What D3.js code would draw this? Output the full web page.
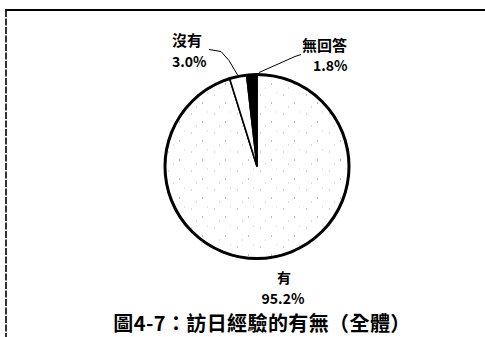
<!DOCTYPE html>
<html><head><meta charset="utf-8">
<script src="https://cdn.jsdelivr.net/npm/d3@7"></script>
<style>
html,body{margin:0;padding:0;background:#fff;}
svg{display:block;}
text{font-family:"Noto Sans CJK TC","Noto Sans CJK SC",sans-serif;font-weight:bold;fill:#000;}
</style></head>
<body>
<svg id="chart" width="485" height="337"></svg>
<script>
const categories = ["有", "沒有", "無回答"];
const values = [95.2, 3.0, 1.8];
const valueLabels = ["95.2%", "3.0%", "1.8%"];
const title = "圖4-7：訪日經驗的有無（全體）";

const svg = d3.select("#chart");
const W = 485, H = 337;
const cx = 257, cy = 166.5, R = 92;

// pattern for the stippled slice
const defs = svg.append("defs");
const pat = defs.append("pattern").attr("id","stip").attr("patternUnits","userSpaceOnUse")
  .attr("width",23).attr("height",19);
pat.append("rect").attr("width",23).attr("height",19).attr("fill","#fff");
pat.append("rect").attr("x",3).attr("y",4).attr("width",1).attr("height",1).attr("fill","#aaa");
pat.append("rect").attr("x",14).attr("y",12).attr("width",1).attr("height",1).attr("fill","#777");
pat.append("rect").attr("x",19).attr("y",2).attr("width",1).attr("height",1).attr("fill","#ccc");
pat.append("rect").attr("x",8).attr("y",16).attr("width",1).attr("height",1).attr("fill","#bbb");

// frame lines
svg.append("line").attr("x1",5).attr("x2",W).attr("y1",10).attr("y2",10)
  .attr("stroke","#000").attr("stroke-width",2);
svg.append("line").attr("x1",6).attr("x2",6).attr("y1",10).attr("y2",H)
  .attr("stroke","#000").attr("stroke-width",1.6).attr("stroke-dasharray","7,1.5");

const fills = ["url(#stip)", "#fff", "#000"];
const pie = d3.pie().sort(null).value(d => d).startAngle(0).endAngle(2*Math.PI);
const arcs = pie(values);
const arc = d3.arc().innerRadius(0).outerRadius(R);

const g = svg.append("g").attr("transform",`translate(${cx},${cy})`);
g.selectAll("path.slice").data(arcs).enter().append("path")
  .attr("class","slice")
  .attr("d", arc)
  .attr("fill", (d,i) => fills[i])
  .attr("stroke","#000").attr("stroke-width",1.6).attr("stroke-linejoin","miter");
g.append("circle").attr("r",R).attr("fill","none").attr("stroke","#000").attr("stroke-width",3);

// leader lines
function pt(a, r){ return [Math.sin(a)*r, -Math.cos(a)*r]; }
const midNo = (arcs[1].startAngle + arcs[1].endAngle)/2;
const pNo = pt(midNo, R+1), pNA = pt(arcs[2].endAngle, R+2);
g.append("path").attr("d", d3.line()([[pNo[0],pNo[1]],[-28,-106],[-36,-115],[-48,-117]]))
  .attr("fill","none").attr("stroke","#000").attr("stroke-width",1);
g.append("path").attr("d", d3.line()([[pNA[0]+2,pNA[1]],[38,-110],[44,-112]]))
  .attr("fill","none").attr("stroke","#000").attr("stroke-width",1);

// labels
function label(x, y, text, size, anchor){
  svg.append("text").attr("x",x).attr("y",y).attr("text-anchor",anchor||"start")
    .style("font-size",size+"px").text(text);
}
label(172, 46, categories[1], 15);
label(172, 67, valueLabels[1], 14);
label(302, 51, categories[2], 15);
label(313, 71, valueLabels[2], 14);
label(284, 283, categories[0], 14, "middle");
label(283, 304, valueLabels[0], 14, "middle");

svg.append("text").attr("x",262).attr("y",331).attr("text-anchor","middle")
  .style("font-size","20px").style("letter-spacing","0.4px").text(title);
</script>
</body></html>
